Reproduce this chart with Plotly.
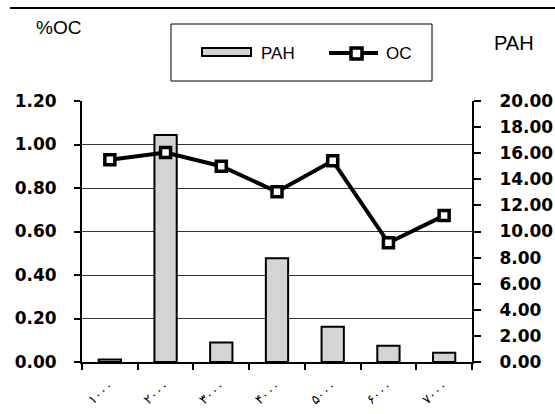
import plotly.graph_objects as go

# ---- data ----
categories = ["۱۰۰۰", "۲۰۰۰", "۳۰۰۰", "۴۰۰۰", "۵۰۰۰", "۶۰۰۰", "۷۰۰۰"]
pah_values = [0.2, 17.4, 1.5, 7.95, 2.7, 1.25, 0.7]
oc_values = [0.93, 0.963, 0.90, 0.783, 0.925, 0.548, 0.673]
oc_ticks = [0.0, 0.2, 0.4, 0.6, 0.8, 1.0, 1.2]
pah_ticks = [0, 2, 4, 6, 8, 10, 12, 14, 16, 18, 20]

W, H = 555, 414
L, R, T, B = 82, 83, 101, 52
PW, PH = W - L - R, H - T - B


def px(x):
    return (x - L) / PW


def py(y):
    return (H - B - y) / PH


fig = go.Figure()

fig.add_trace(go.Bar(
    x=categories, y=pah_values, name="PAH", yaxis="y",
    width=0.4,
    marker=dict(color="#d4d4d4", line=dict(color="black", width=2)),
    showlegend=False,
))

fig.add_trace(go.Scatter(
    x=categories, y=oc_values, name="OC", yaxis="y2",
    mode="lines+markers",
    line=dict(color="black", width=4),
    marker=dict(symbol="square", size=10, color="white",
                line=dict(color="black", width=3.5)),
    showlegend=False,
))

tick_font = dict(family="DejaVu Sans", size=17, color="black", weight="bold")

fig.update_layout(
    width=W, height=H,
    margin=dict(l=L, r=R, t=T, b=B, pad=0, autoexpand=False),
    paper_bgcolor="white", plot_bgcolor="white",
    xaxis=dict(
        type="category", automargin=False,
        showline=True, linecolor="black", linewidth=2,
        ticks="outside", ticklen=6, tickcolor="black", tickwidth=1.5,
        tickson="boundaries",
        tickangle=-40,
        tickfont=dict(family="DejaVu Sans", size=13, color="black"),
        ticklabelstandoff=9,
        showgrid=False, zeroline=False,
    ),
    yaxis=dict(
        side="right", automargin=False,
        range=[0, 20], tickvals=pah_ticks, tickformat=".2f",
        showline=True, linecolor="black", linewidth=2,
        ticks="outside", ticklen=7, tickcolor="black", tickwidth=1.5,
        tickfont=tick_font, ticklabelstandoff=15,
        showgrid=False, zeroline=False,
        minor=dict(tickvals=[20 * v / 1.2 for v in oc_ticks[1:-1]],
                   showgrid=True, gridcolor="#333333", gridwidth=1,
                   ticks=""),
    ),
    yaxis2=dict(
        side="left", overlaying="y", automargin=False,
        range=[0, 1.2], tickvals=oc_ticks, tickformat=".2f",
        showline=True, linecolor="black", linewidth=2,
        ticks="outside", ticklen=6, tickcolor="black", tickwidth=1.5,
        tickfont=tick_font, ticklabelstandoff=14,
        showgrid=False, zeroline=False,
    ),
)

shapes = [
    # top rule
    dict(type="line", xref="paper", yref="paper", x0=px(10), x1=px(555),
         y0=py(8), y1=py(8), line=dict(color="black", width=2)),
    # legend box
    dict(type="rect", xref="paper", yref="paper", x0=px(171), x1=px(432),
         y0=py(24), y1=py(81), line=dict(color="black", width=1),
         fillcolor="white"),
    # legend bar symbol
    dict(type="rect", xref="paper", yref="paper", x0=px(202), x1=px(251),
         y0=py(48), y1=py(56), line=dict(color="black", width=2),
         fillcolor="#d4d4d4"),
    # legend line symbol
    dict(type="line", xref="paper", yref="paper", x0=px(329), x1=px(378),
         y0=py(53), y1=py(53), line=dict(color="black", width=4)),
    dict(type="rect", xref="paper", yref="paper", x0=px(351), x1=px(362),
         y0=py(48), y1=py(59), line=dict(color="black", width=3.5),
         fillcolor="white"),
]
fig.update_layout(shapes=shapes)

txt = dict(family="Liberation Sans", color="black")
annotations = [
    dict(text="%OC", x=px(34), y=py(27), xanchor="left", yanchor="middle",
         font=dict(size=19, **txt)),
    dict(text="PAH", x=px(492), y=py(43), xanchor="left", yanchor="middle",
         font=dict(size=20, **txt)),
    dict(text="PAH", x=px(259), y=py(53), xanchor="left", yanchor="middle",
         font=dict(size=17, **txt)),
    dict(text="OC", x=px(384), y=py(53), xanchor="left", yanchor="middle",
         font=dict(size=17, **txt)),
]
for a in annotations:
    a.update(xref="paper", yref="paper", showarrow=False)
fig.update_layout(annotations=annotations)

fig.write_html("out.html")
